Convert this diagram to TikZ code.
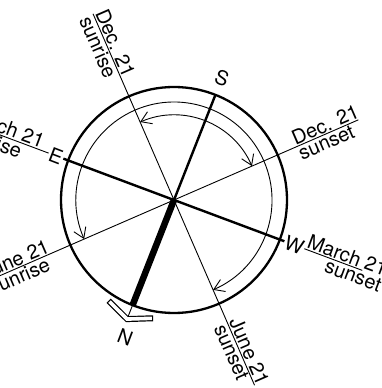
\documentclass[tikz,border=0pt]{standalone}
\usepackage{fontspec}
\setmainfont{TeX Gyre Heros}
\newfontfamily\lblfont{TeX Gyre Heros}[Scale=2.0]
\usetikzlibrary{arrows.meta,calc}
\begin{document}
\begin{tikzpicture}[
  thinline/.style={line width=0.9pt},
  thickline/.style={line width=2.4pt},
  needle/.style={line width=6.5pt},
  rim/.style={line width=2.3pt},
  sunarc/.style={line width=0.9pt,
    arrows={Straight Barb[length=10pt,width=13pt]-Straight Barb[length=10pt,width=13pt]}},
  lbl/.style={font=\lblfont, inner sep=1.2pt},
  letter/.style={font=\lblfont, inner sep=1pt, rotate=-21},
]
\useasboundingbox (0,0) rectangle (382pt,388pt);
\clip (0,0) rectangle (382pt,388pt);
\coordinate (O) at (174pt,188pt);
% line ends
\coordinate (d1) at ($(O)+(113.5:203pt)$);
\coordinate (j2) at ($(O)+(293.5:202pt)$);
\coordinate (d2) at ($(O)+(23.5:201pt)$);
\coordinate (j1) at ($(O)+(203.5:205pt)$);
\coordinate (Eend) at ($(O)+(159.5:205pt)$);
\coordinate (Wend) at ($(O)+(339.5:201pt)$);
\coordinate (So) at ($(O)+(68.5:113pt)$);
\coordinate (No) at ($(O)+(248.5:113pt)$);
\coordinate (Nt) at ($(O)+(248.5:125pt)$);
% circles
\draw[rim] (O) circle[radius=113pt];
\draw[thinline] (d1) -- (j2);
\draw[thinline] (d2) -- (j1);
% sun paths
\draw[sunarc] ($(O)+(203.5:98pt)$) arc[start angle=203.5, end angle=-66.5, radius=98pt];
\draw[sunarc] ($(O)+(23.5:85pt)$) arc[start angle=23.5, end angle=113.5, radius=85pt];
% compass letters
\node[letter] (E) at ($(O)+(159.5:126pt)$) {E};
\node[letter] (W) at ($(O)+(339.5:128.5pt)$) {W};
\node[letter] (S) at ($(O)+(68.5:131pt)$) {S};
\node[letter] (N) at ($(O)+(250.5:146pt)$) {N};
\draw[thickline] (E) -- (W);
\draw[thinline] (E) -- (Eend);
\draw[thinline] (W) -- (Wend);
\draw[thickline] (O) -- (So);
\draw[needle] (O) -- (No);
\draw[thinline] (No) -- (Nt);
% chevron
\coordinate (cV) at ($(O)+(248.5:128pt)$);
\coordinate (cA) at ($(cV)+(158.5:23.9pt)+(68.5:10.3pt)$);
\coordinate (cB) at ($(cV)+(-21.5:23.9pt)+(68.5:10.3pt)$);
\draw[line width=6pt, line join=miter] (cA) -- (cV) -- (cB);
\draw[line width=3.6pt, white, line join=miter, shorten <=1.2pt, shorten >=1.2pt] (cA) -- (cV) -- (cB);
% labels
\node[lbl, rotate=-66.5, anchor=south west] (dsr1) at ($(O)+(113.5:204pt)$) {Dec. 21};
\node[lbl, rotate=-66.5, anchor=north west] (dsr2) at ($(O)+(113.5:204pt)$) {sunrise};
\node[lbl, rotate=23.5, anchor=south west] (dss1) at ($(O)+(23.5:132pt)$) {Dec. 21};
\node[lbl, rotate=23.5, anchor=north west] (dss2) at ($(O)+(23.5:132pt)$) {sunset};
\node[lbl, rotate=-66.5, anchor=south west] (jss1) at ($(O)+(293.5:132pt)$) {June 21};
\node[lbl, rotate=-66.5, anchor=north west] (jss2) at ($(O)+(293.5:132pt)$) {sunset};
\node[lbl, rotate=23.5, anchor=south west] (jsr1) at ($(O)+(203.5:206pt)$) {June 21};
\node[lbl, rotate=23.5, anchor=north west] (jsr2) at ($(O)+(203.5:206pt)$) {sunrise};
\node[lbl, rotate=-20.5, anchor=south west] (msr1) at ($(O)+(159.5:227pt)$) {March 21};
\node[lbl, rotate=-20.5, anchor=north west] (msr2) at ($(O)+(159.5:226pt)$) {sunrise};
\node[lbl, rotate=-20.5, anchor=south east] (mss1) at ($(O)+(339.5:225pt)$) {March 21};
\node[lbl, rotate=-20.5, anchor=north east] (mss2) at ($(O)+(339.5:225pt)$) {sunset};
\end{tikzpicture}
\end{document}
